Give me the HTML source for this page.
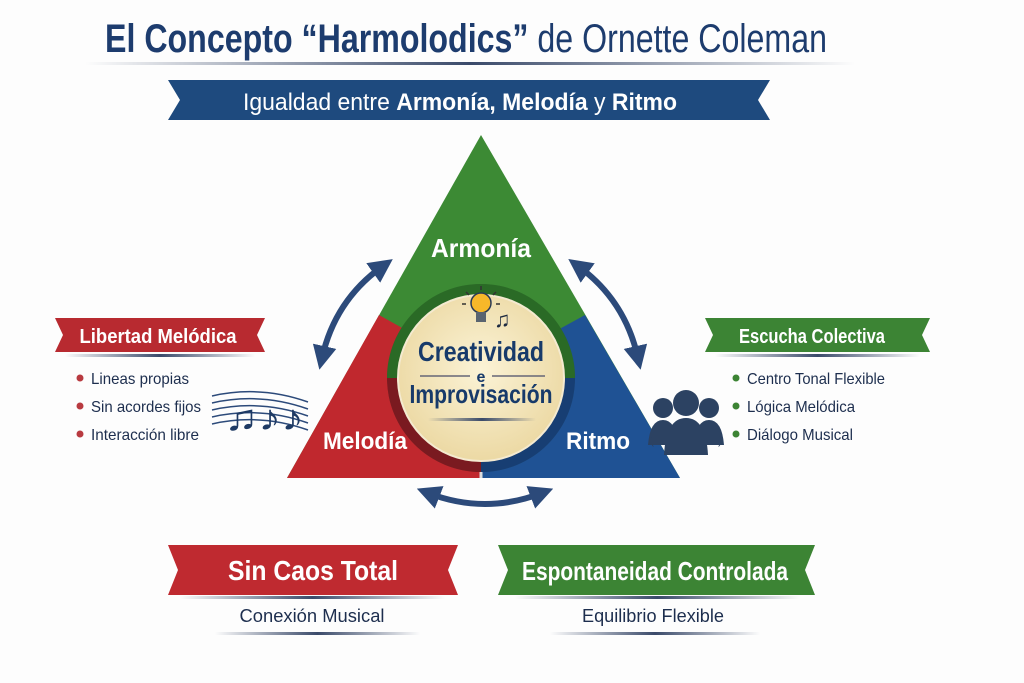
<!DOCTYPE html>
<html><head><meta charset="utf-8"><style>
html,body{margin:0;padding:0;background:#fff;width:1024px;height:683px;overflow:hidden}
svg{display:block}
text{font-family:"Liberation Sans Narrow","Liberation Sans",sans-serif}
</style></head><body>
<svg width="1024" height="683" viewBox="0 0 1024 683" xmlns="http://www.w3.org/2000/svg">
<defs>
<radialGradient id="yg" cx="50%" cy="45%" r="55%"><stop offset="0" stop-color="#fbf3d6"/><stop offset="1" stop-color="#ecd9a4"/></radialGradient>
<linearGradient id="ul" x1="0" x2="1"><stop offset="0" stop-color="#3a4a6a" stop-opacity="0"/><stop offset="0.5" stop-color="#3a4a6a"/><stop offset="1" stop-color="#3a4a6a" stop-opacity="0"/></linearGradient>
<marker id="ah" viewBox="0 0 10 10" refX="5" refY="5" markerWidth="4" markerHeight="4" orient="auto-start-reverse"><path d="M0,0 L10,5 L0,10 z" fill="#2c4a7a"/></marker>
</defs>
<rect width="1024" height="683" fill="#fdfdfd"/>
<text x="466" y="52" text-anchor="middle" font-size="40" font-weight="bold" fill="#1d3c6e" textLength="722" lengthAdjust="spacingAndGlyphs">El Concepto “Harmolodics” <tspan font-weight="normal">de Ornette Coleman</tspan></text>
<rect x="85" y="62" width="770" height="3" fill="url(#ul)"/>
<polygon points="168,80 770,80 758,100 770,120 168,120 180,100" fill="#1e4a7e"/>
<text x="460" y="110" text-anchor="middle" font-size="24" fill="#fff" textLength="434" lengthAdjust="spacingAndGlyphs">Igualdad entre <tspan font-weight="bold">Armonía, Melodía</tspan> y <tspan font-weight="bold">Ritmo</tspan></text>
<polygon points="481,135 680,478 287,478" fill="#3c8a34"/>
<polygon points="379,315 481,372 481,478 287,478" fill="#c0282e"/>
<polygon points="585,315 481,372 481,478 680,478" fill="#1f5294"/>
<line x1="481" y1="460" x2="481" y2="478" stroke="#ddd" stroke-width="3"/>
<circle cx="481" cy="378" r="94" fill="#2d4a2a" opacity="0.35"/>
<path d="M387,378 A94,94 0 0 1 575,378" fill="#2a6a26"/>
<path d="M387,378 A94,94 0 0 0 481,472 L481,378z" fill="#7a1a20"/>
<path d="M575,378 A94,94 0 0 1 481,472 L481,378z" fill="#173e73"/>
<circle cx="481" cy="378" r="83" fill="url(#yg)" stroke="#f4ead0" stroke-width="2"/>
<circle cx="481" cy="303" r="10" fill="#f7b82a" stroke="#2a3a55" stroke-width="1.5"/>
<rect x="476" y="312" width="10" height="10" fill="#5a6470"/>
<g stroke="#333" stroke-width="1.5"><line x1="481" y1="286" x2="481" y2="290"/><line x1="466" y1="292" x2="469" y2="295"/><line x1="496" y1="292" x2="493" y2="295"/><line x1="462" y1="304" x2="466" y2="304"/><line x1="500" y1="304" x2="496" y2="304"/></g>
<text x="494" y="327" font-size="22" fill="#1d2a40">♫</text>
<text x="481" y="361" text-anchor="middle" font-size="28" font-weight="bold" fill="#173a6a" textLength="126" lengthAdjust="spacingAndGlyphs">Creatividad</text>
<line x1="420" y1="376" x2="470" y2="376" stroke="#667" stroke-width="1.5"/>
<line x1="492" y1="376" x2="545" y2="376" stroke="#667" stroke-width="1.5"/>
<text x="481" y="382" text-anchor="middle" font-size="16" font-weight="bold" fill="#173a6a">e</text>
<text x="481" y="403" text-anchor="middle" font-size="26" font-weight="bold" fill="#173a6a" textLength="143" lengthAdjust="spacingAndGlyphs">Improvisación</text>
<rect x="428" y="418" width="108" height="3" fill="url(#ul)"/>
<text x="481" y="257" text-anchor="middle" font-size="26" font-weight="bold" fill="#fff" textLength="100" lengthAdjust="spacingAndGlyphs">Armonía</text>
<text x="365" y="449" text-anchor="middle" font-size="24" font-weight="bold" fill="#fff" textLength="84" lengthAdjust="spacingAndGlyphs">Melodía</text>
<text x="598" y="449" text-anchor="middle" font-size="24" font-weight="bold" fill="#fff" textLength="64" lengthAdjust="spacingAndGlyphs">Ritmo</text>
<g fill="none" stroke="#2c4a7a" stroke-width="6" marker-start="url(#ah)" marker-end="url(#ah)">
<path d="M383,266 Q335,300 322,358"/>
<path d="M578,266 Q625,300 638,358"/>
<path d="M428,493 Q485,515 542,493"/>
</g>
<g fill="#2c4262">
<circle cx="663" cy="408" r="10"/><path d="M648,445 Q650,420 663,420 Q676,420 678,445z"/>
<circle cx="709" cy="408" r="10"/><path d="M694,445 Q696,420 709,420 Q722,420 724,445z"/>
<circle cx="686" cy="403" r="13"/><path d="M664,455 Q666,418 686,418 Q706,418 708,455z"/>
</g>
<text x="650" y="444" font-size="12" fill="#2c4262">(</text><text x="718" y="444" font-size="12" fill="#2c4262">)</text>
<polygon points="55,318 265,318 257,335 265,352 55,352 63,335" fill="#b82a30"/>
<rect x="65" y="354" width="190" height="3" fill="url(#ul)"/>
<text x="158" y="343" text-anchor="middle" font-size="20" font-weight="bold" fill="#fff" textLength="157" lengthAdjust="spacingAndGlyphs">Libertad Melódica</text>
<g font-size="16" fill="#1d2e4e">
<circle cx="80" cy="378" r="3.5" fill="#b83a40"/><text x="91" y="384" textLength="98" lengthAdjust="spacingAndGlyphs">Lineas propias</text>
<circle cx="80" cy="406" r="3.5" fill="#b83a40"/><text x="91" y="412" textLength="110" lengthAdjust="spacingAndGlyphs">Sin acordes fijos</text>
<circle cx="80" cy="434" r="3.5" fill="#b83a40"/><text x="91" y="440" textLength="108" lengthAdjust="spacingAndGlyphs">Interacción libre</text>
</g>
<g stroke="#2c4a7a" stroke-width="1.5" fill="none">
<path d="M212,396 Q260,385 308,402"/><path d="M212,403 Q260,392 308,409"/><path d="M212,410 Q260,399 308,416"/><path d="M212,417 Q260,406 308,423"/><path d="M212,424 Q260,413 308,430"/>
</g>
<text x="224" y="430" font-size="36" fill="#1e3a64" textLength="80" lengthAdjust="spacingAndGlyphs">♫♪♪</text>
<polygon points="705,318 930,318 922,335 930,352 705,352 713,335" fill="#3c8434"/>
<rect x="715" y="354" width="205" height="3" fill="url(#ul)"/>
<text x="812" y="343" text-anchor="middle" font-size="20" font-weight="bold" fill="#fff" textLength="146" lengthAdjust="spacingAndGlyphs">Escucha Colectiva</text>
<g font-size="16" fill="#1d2e4e">
<circle cx="736" cy="378" r="3.5" fill="#3c8434"/><text x="747" y="384" textLength="138" lengthAdjust="spacingAndGlyphs">Centro Tonal Flexible</text>
<circle cx="736" cy="406" r="3.5" fill="#3c8434"/><text x="747" y="412" textLength="108" lengthAdjust="spacingAndGlyphs">Lógica Melódica</text>
<circle cx="736" cy="434" r="3.5" fill="#3c8434"/><text x="747" y="440" textLength="106" lengthAdjust="spacingAndGlyphs">Diálogo Musical</text>
</g>
<polygon points="168,545 458,545 448,570 458,595 168,595 178,570" fill="#bf2a30"/>
<rect x="180" y="596" width="265" height="3" fill="url(#ul)"/>
<text x="313" y="580" text-anchor="middle" font-size="28" font-weight="bold" fill="#fff" textLength="170" lengthAdjust="spacingAndGlyphs">Sin Caos Total</text>
<text x="312" y="622" text-anchor="middle" font-size="18" fill="#1d2e4e" textLength="145" lengthAdjust="spacingAndGlyphs">Conexión Musical</text>
<rect x="215" y="632" width="205" height="3" fill="url(#ul)"/>
<polygon points="498,545 815,545 805,570 815,595 498,595 508,570" fill="#3c8434"/>
<rect x="515" y="596" width="285" height="3" fill="url(#ul)"/>
<text x="655" y="580" text-anchor="middle" font-size="26" font-weight="bold" fill="#fff" textLength="266" lengthAdjust="spacingAndGlyphs">Espontaneidad Controlada</text>
<text x="653" y="622" text-anchor="middle" font-size="18" fill="#1d2e4e" textLength="142" lengthAdjust="spacingAndGlyphs">Equilibrio Flexible</text>
<rect x="550" y="632" width="210" height="3" fill="url(#ul)"/>
</svg>
</body></html>
